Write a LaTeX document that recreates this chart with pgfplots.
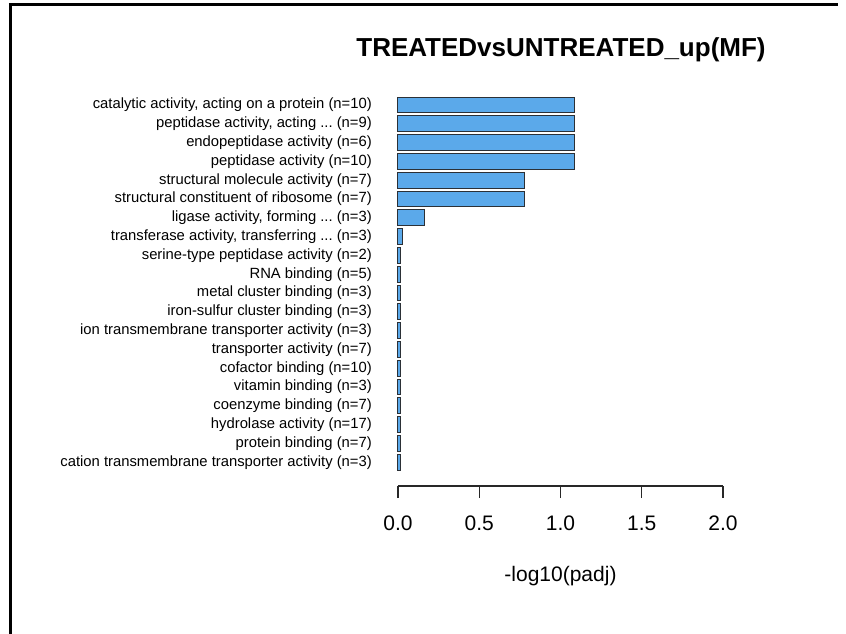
\documentclass[border=0pt]{standalone}
\usepackage{fontspec}
\setmainfont{Liberation Sans}
\usepackage{pgfplots}
\pgfplotsset{compat=1.18}

\definecolor{barblue}{RGB}{91,169,234}
\definecolor{bardark}{RGB}{43,48,54}
\definecolor{axisgray}{RGB}{40,40,40}
% three plain periods, kept out of the list parser
\newcommand\tdots{...}

\begin{document}
\frenchspacing
\begin{tikzpicture}
\begin{axis}[
  scale only axis,
  width=325pt, height=392.3pt,
  xmin=0, xmax=2,
  ymin=-0.26, ymax=20.6,
  axis x line*=bottom,
  axis y line*=left,
  x axis line style={-, line width=1.2pt, color=axisgray},
  y axis line style={draw=none},
  xtick={0,0.5,1,1.5,2},
  xticklabels={0.0,0.5,1.0,1.5,2.0},
  tick align=outside,
  major tick length=12pt,
  x tick style={line width=1.2pt, color=axisgray},
  y tick style={draw=none},
  xticklabel style={font=\fontsize{21}{25}\selectfont, anchor=base, yshift=-32pt},
  ytick={1,...,20},
  yticklabels={
    cation transmembrane transporter activity (n=3),
    protein binding (n=7),
    hydrolase activity (n=17),
    coenzyme binding (n=7),
    vitamin binding (n=3),
    cofactor binding (n=10),
    transporter activity (n=7),
    ion transmembrane transporter activity (n=3),
    iron-sulfur cluster binding (n=3),
    metal cluster binding (n=3),
    RNA binding (n=5),
    serine-type peptidase activity (n=2),
    {transferase activity, transferring \tdots{} (n=3)},
    {ligase activity, forming \tdots{} (n=3)},
    structural constituent of ribosome (n=7),
    structural molecule activity (n=7),
    peptidase activity (n=10),
    endopeptidase activity (n=6),
    {peptidase activity, acting \tdots{} (n=9)},
    {catalytic activity, acting on a protein (n=10)}
  },
  yticklabel style={font=\fontsize{14.8}{17}\selectfont, anchor=east, inner sep=0pt, xshift=-14pt},
  xlabel={-log10(padj)},
  xlabel style={font=\fontsize{21}{25}\selectfont, at={(axis description cs:0.5,0)}, anchor=base, yshift=-95.7pt},
  clip=false,
]
\addplot[xbar, bar width=0.84, fill=barblue, draw=bardark, line width=1pt]
  coordinates {
    (0.016,1) (0.016,2) (0.016,3) (0.016,4) (0.016,5)
    (0.016,6) (0.016,7) (0.016,8) (0.016,9) (0.016,10)
    (0.016,11) (0.016,12) (0.025,13) (0.162,14) (0.780,15)
    (0.780,16) (1.085,17) (1.085,18) (1.085,19) (1.085,20)
  };
\end{axis}
% title
\node[anchor=base, font=\bfseries\fontsize{26}{30}\selectfont] at (163pt,429.3pt) {TREATEDvsUNTREATED\_up(MF)};
% window frame
\draw[line width=3pt, black] (-387.5pt,481.5pt) -- (-387.5pt,-148pt);
\draw[line width=2.5pt, black] (-389pt,481.5pt) -- (440pt,481.5pt);
\pgfresetboundingbox
\useasboundingbox (-398pt,-148pt) rectangle (448pt,486pt);
\end{tikzpicture}
\end{document}
